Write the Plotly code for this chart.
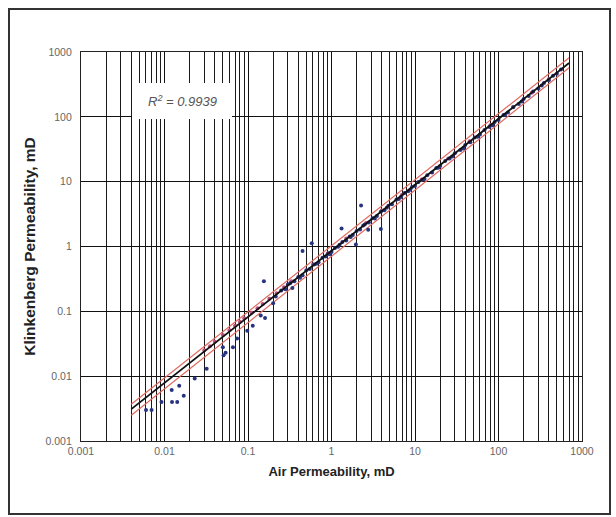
import plotly.graph_objects as go

# ---- data ----
blue_x = [0.006, 0.007, 0.0092, 0.0122, 0.0123, 0.0142, 0.015, 0.017, 0.023, 0.032,
          0.051, 0.054, 0.05, 0.066, 0.074, 0.098, 0.114, 0.142, 0.16, 0.155,
          0.2, 0.215, 0.34, 0.45, 0.58, 1.32, 2.26, 3.9, 2.75, 1.96,
          0.25, 0.28, 0.32, 0.36, 0.4, 0.45, 0.5, 0.55, 0.62, 0.7,
          0.78, 0.85, 0.92, 1.0, 1.1, 1.2, 1.35, 1.5, 1.65, 1.8,
          2.0, 2.2, 2.5, 2.8, 3.1, 3.5, 3.9, 4.3, 4.8, 5.3,
          6, 6.8, 7.5, 8.3, 9.2, 10, 11, 12.5, 14, 16,
          18, 20, 23, 26, 30, 35, 40, 46, 52, 60,
          68, 78, 90, 100, 115, 130, 150, 175, 200, 230,
          260, 300, 350, 400, 450, 500, 560,
          0.3, 0.42, 0.66, 0.95, 1.25, 1.7, 2.4, 3.3, 4.6, 6.4,
          8.8, 13, 19, 28, 38, 56, 85, 120, 190, 330]
blue_y = [0.003, 0.003, 0.004, 0.0061, 0.004, 0.004, 0.0071, 0.005, 0.0092, 0.013,
          0.021, 0.023, 0.028, 0.028, 0.038, 0.05, 0.06, 0.086, 0.079, 0.29,
          0.133, 0.169, 0.23, 0.85, 1.12, 1.9, 4.3, 1.87, 1.82, 1.07,
          0.21, 0.22, 0.27, 0.29, 0.34, 0.36, 0.43, 0.45, 0.53, 0.57,
          0.67, 0.70, 0.79, 0.82, 0.95, 0.99, 1.17, 1.24, 1.43, 1.50,
          1.74, 1.83, 2.19, 2.35, 2.72, 2.95, 3.44, 3.62, 4.25, 4.50,
          5.33, 5.80, 6.70, 7.10, 8.25, 8.6, 9.9, 10.8, 12.6, 13.9,
          16.3, 17.4, 20.9, 22.7, 27.4, 30.8, 36.7, 40.6, 47.9, 53.2,
          62.8, 69.5, 83.5, 89.5, 107, 117, 140, 158, 188, 209,
          246, 274, 333, 368, 430, 462, 535,
          0.26, 0.33, 0.54, 0.76, 1.06, 1.40, 2.10, 2.70, 3.95, 5.4,
          7.6, 11.0, 16.4, 24.5, 32.5, 49.5, 74, 108, 172, 305]

pink_x = [0.03, 0.035, 0.04, 0.05, 0.06, 0.07, 0.08, 0.09, 0.11, 0.13,
          0.15, 0.18, 0.22, 0.27, 0.33, 0.6, 0.9, 1.5, 2.6, 4, 7, 12, 25, 45, 80,
          150, 250, 400]
pink_y = [0.025, 0.029, 0.034, 0.043, 0.051, 0.060, 0.069, 0.078, 0.095, 0.112,
          0.13, 0.156, 0.19, 0.235, 0.29, 0.53, 0.78, 1.33, 2.3, 3.6, 6.3, 10.8, 22.8, 42, 75,
          142, 236, 380]

fit_x = [0.004, 700]
fit_y = [0.0031, 676]
upper_y = [0.0037, 813]
lower_y = [0.0025, 570]

decades = [0.001, 0.01, 0.1, 1, 10, 100, 1000]
decade_labels = ["0.001", "0.01", "0.1", "1", "10", "100", "1000"]
minor_vals = [m * d for d in decades[:-1] for m in range(2, 10)]

r2_text = "R<sup>2</sup> = 0.9939"

fig = go.Figure()
fig.add_trace(go.Scatter(x=fit_x, y=upper_y, mode="lines",
                         line=dict(color="#e0685e", width=1.2), showlegend=False))
fig.add_trace(go.Scatter(x=fit_x, y=lower_y, mode="lines",
                         line=dict(color="#e0685e", width=1.2), showlegend=False))
fig.add_trace(go.Scatter(x=pink_x, y=pink_y, mode="markers",
                         marker=dict(size=4, color="#b8507e"), showlegend=False))
fig.add_trace(go.Scatter(x=blue_x, y=blue_y, mode="markers",
                         marker=dict(size=4, color="#283380"), showlegend=False))
fig.add_trace(go.Scatter(x=fit_x, y=fit_y, mode="lines",
                         line=dict(color="#111111", width=1.8), showlegend=False))

L, R, T, B = 81, 34, 52, 76
W, H = 616, 517
pw, ph = W - L - R, H - T - B

def px(xp):
    return (xp - L) / pw

def py(yp):
    return (H - B - yp) / ph

fig.update_layout(
    width=W, height=H,
    margin=dict(l=L, r=R, t=T, b=B),
    paper_bgcolor="white", plot_bgcolor="white",
    font=dict(family="Liberation Sans, Arial, sans-serif", color="#555"),
    xaxis=dict(type="log", range=[-3, 3], tickvals=decades, ticktext=decade_labels,
               showgrid=True, gridcolor="#111", gridwidth=1.2,
               minor=dict(tickvals=minor_vals, showgrid=True, gridcolor="#1a1a1a", gridwidth=1.1, ticks=""),
               showline=True, linecolor="#222", linewidth=1.2, mirror=True,
               ticks="", tickfont=dict(size=10.5, color="#666"),
               title=dict(text="<b>Air Permeability, mD</b>", font=dict(size=13, color="#222"), standoff=11),
               zeroline=False),
    yaxis=dict(type="log", range=[-3, 3], tickvals=decades, ticktext=decade_labels,
               showgrid=True, gridcolor="#111", gridwidth=1.2,
               showline=True, linecolor="#222", linewidth=1.2, mirror=True,
               ticks="", tickfont=dict(size=10.5, color="#666"), ticklabelstandoff=6,
               title=dict(text="<b>Klinkenberg Permeability, mD</b>", font=dict(size=15.5, color="#222"), standoff=6),
               zeroline=False),
    shapes=[
        dict(type="rect", xref="paper", yref="paper",
             x0=px(9), x1=px(610), y0=py(514), y1=py(9),
             line=dict(color="#333", width=2), fillcolor="rgba(0,0,0,0)", layer="above"),
        dict(type="rect", xref="paper", yref="paper",
             x0=px(132), x1=px(232), y0=py(119), y1=py(83),
             line=dict(width=0), fillcolor="white", layer="above"),
    ],
    annotations=[
        dict(text="<i>" + r2_text + "</i>", xref="paper", yref="paper",
             x=px(182), y=py(101), xanchor="center", yanchor="middle",
             showarrow=False, font=dict(size=13, color="#555")),
    ],
)

fig.write_html("out.html")
